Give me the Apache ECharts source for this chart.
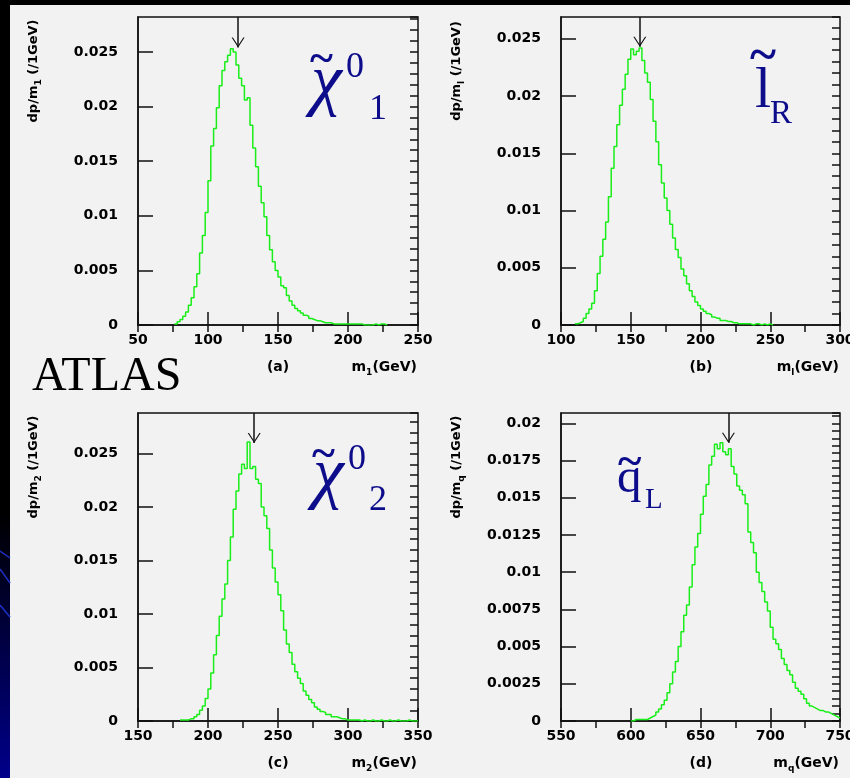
<!DOCTYPE html>
<html>
<head>
<meta charset="utf-8">
<script src="https://cdn.jsdelivr.net/npm/echarts@6/dist/echarts.min.js"></script>
<style>
html, body { margin: 0; padding: 0; background: #000; }
#wrap { position: relative; width: 850px; height: 778px; overflow: hidden; background: #000; }
#strip { position: absolute; left: 0; top: 0; width: 10px; height: 778px;
  background: linear-gradient(to bottom, #000 0%, #000 66%, #000030 78%, #00008a 100%); }
#panel { position: absolute; left: 10px; top: 5px; width: 840px; height: 773px; background: #f2f2f2; }
#main { position: absolute; left: 0; top: 0; width: 850px; height: 778px; }
</style>
</head>
<body>
<div id="wrap">
  <div id="strip"></div>
  <div id="panel"></div>
  <div id="main"></div>
</div>
<script>
// histogram bins, 2 GeV wide
const binWidth = 2

// (a) chi0_1
const chi1Start = 76
const chi1 = [0.0001, 0.0003, 0.0005, 0.0008, 0.0012, 0.0018, 0.0025, 0.0035, 0.0047, 0.0066,
  0.0082, 0.0103, 0.0132, 0.0164, 0.0180, 0.0199, 0.0219, 0.0233, 0.0241, 0.0247,
  0.0253, 0.0250, 0.0238, 0.0226, 0.0219, 0.0206, 0.0208, 0.0183, 0.0162, 0.0145,
  0.0127, 0.0112, 0.0099, 0.0082, 0.0069, 0.0058, 0.0050, 0.0044, 0.0036, 0.0034,
  0.0027, 0.0022, 0.0018, 0.0015, 0.0013, 0.0011, 0.0009, 0.0008, 0.0006, 0.0005,
  0.0004, 0.0004, 0.0003, 0.0002, 0.0002, 0.0002, 0.0001, 0.0001, 0.0001, 0.0001,
  0.0001, 0.0001, 0.0001, 0.0001, 0.0001, 0.0001, 0.0001, 0, 0, 0,
  0, 0.0001, 0, 0.0001, 0.0001, 0]

// (b) slepton_R
const slepStart = 110
const slep = [0.0001, 0.0002, 0.0003, 0.0006, 0.0010, 0.0014, 0.0019, 0.0030, 0.0045, 0.0060,
  0.0075, 0.0090, 0.0112, 0.0137, 0.0156, 0.0175, 0.0192, 0.0206, 0.0219, 0.0232,
  0.0241, 0.0236, 0.0239, 0.0242, 0.0231, 0.0220, 0.0212, 0.0197, 0.0178, 0.0160,
  0.0140, 0.0124, 0.0111, 0.0100, 0.0088, 0.0076, 0.0066, 0.0059, 0.0049, 0.0043,
  0.0036, 0.0030, 0.0025, 0.0020, 0.0017, 0.0014, 0.0012, 0.0010, 0.0009, 0.0007,
  0.0006, 0.0006, 0.0004, 0.0004, 0.0003, 0.0003, 0.0002, 0.0002, 0.0001, 0.0001,
  0.0001, 0.0001, 0.0001, 0, 0.0001, 0.0001, 0, 0.0001, 0, 0.0001, 0]

// (c) chi0_2
const chi2Start = 180
const chi2 = [0.0001, 0.0001, 0.0001, 0.0002, 0.0002, 0.0004, 0.0006, 0.0010, 0.0014, 0.0021,
  0.0030, 0.0045, 0.0062, 0.0080, 0.0098, 0.0114, 0.0128, 0.0150, 0.0172, 0.0198,
  0.0215, 0.0231, 0.0240, 0.0236, 0.0261, 0.0236, 0.0238, 0.0226, 0.0222, 0.0200,
  0.0192, 0.0180, 0.0160, 0.0143, 0.0130, 0.0118, 0.0103, 0.0085, 0.0072, 0.0064,
  0.0053, 0.0046, 0.0040, 0.0035, 0.0028, 0.0024, 0.0020, 0.0017, 0.0013, 0.0011,
  0.0009, 0.0008, 0.0006, 0.0006, 0.0004, 0.0004, 0.0003, 0.0002, 0.0002, 0.0001,
  0.0001, 0.0001, 0.0001, 0.0001, 0, 0.0001, 0, 0, 0.0001, 0,
  0, 0.0001, 0, 0, 0.0001, 0, 0, 0.0001, 0, 0,
  0, 0.0001, 0, 0, 0]

// (d) squark_L
const sqStart = 600
const squark = [0, 0.0001, 0.0001, 0.0001, 0.0001, 0.0001, 0.0002, 0.0003, 0.0004, 0.0006,
  0.0008, 0.0011, 0.0014, 0.0019, 0.0025, 0.0033, 0.0040, 0.0050, 0.0060, 0.0071,
  0.0078, 0.0090, 0.0105, 0.0117, 0.0126, 0.0139, 0.0151, 0.0159, 0.0172, 0.0178,
  0.0186, 0.0183, 0.0187, 0.0181, 0.0179, 0.0183, 0.0171, 0.0166, 0.0158, 0.0155,
  0.0152, 0.0146, 0.0127, 0.0120, 0.0113, 0.0100, 0.0093, 0.0087, 0.0080, 0.0074,
  0.0063, 0.0055, 0.0052, 0.0048, 0.0042, 0.0038, 0.0034, 0.0031, 0.0026, 0.0022,
  0.0020, 0.0018, 0.0015, 0.0012, 0.0010, 0.0009, 0.0008, 0.0007, 0.0007, 0.0006,
  0.0006, 0.0005, 0.0004, 0.0003, 0.0002]

// axes
const xRanges = [[50, 250], [100, 300], [150, 350], [550, 750]]
const yMaxes = [0.0282, 0.0269, 0.0288, 0.0207]
const yIntervals = [0.005, 0.005, 0.005, 0.0025]
const yMinorIntervals = [0.001, 0.001, 0.001, 0.0005]
// arrows: nominal mass and the height of the arrow tip
const peakMasses = [121.5, 156.5, 233, 670]
const arrowTips = [0.0254, 0.0243, 0.0260, 0.0187]
const panelTags = ['(a)', '(b)', '(c)', '(d)']
const massSubs = ['1', 'l', '2', 'q']

const starts = [chi1Start, slepStart, chi2Start, sqStart]
const hists = [chi1, slep, chi2, squark]
const grids = [
  { left: 138, top: 17, width: 280, height: 308 },
  { left: 561, top: 17, width: 279, height: 308 },
  { left: 138, top: 413, width: 280, height: 308 },
  { left: 561, top: 413, width: 279, height: 308 }
]

const axisFont = { fontFamily: 'DejaVu Sans', fontWeight: 'bold', fontSize: 14, color: '#000' }
const dark = '#111'
const navy = '#0d0d8c'
// open "v" arrow head, tip at centre of its box
const arrowHead = 'path://M5,0 L10,9 L9,9 L5,1.8 L1,9 L0,9 Z M5,-9 L5.01,-9 L5,-9 Z'

function histData (start, vals) {
  const pts = vals.map((v, i) => [start + i * binWidth, v])
  pts.push([start + vals.length * binWidth, vals[vals.length - 1]])
  return pts
}

const chart = echarts.init(document.getElementById('main'), null, { renderer: 'canvas' })

const gridOpts = []
const xAxes = []
const yAxes = []
const series = []
const graphics = []

grids.forEach((g, i) => {
  gridOpts.push(Object.assign({
    show: true, borderColor: dark, borderWidth: 1.5, backgroundColor: 'transparent',
    containLabel: false, outerBoundsMode: 'none'
  }, g))
  // main x axis, labels every 50
  xAxes.push({
    gridIndex: i, type: 'value', min: xRanges[i][0], max: xRanges[i][1], interval: 50,
    axisLine: { show: true, lineStyle: { color: dark, width: 1.5 } },
    axisTick: { show: true, inside: true, length: 13, lineStyle: { color: dark, width: 1.5 } },
    axisLabel: Object.assign({ margin: 8, showMinLabel: true, showMaxLabel: true }, axisFont),
    splitLine: { show: false }
  })
  // short ticks every 25
  xAxes.push({
    gridIndex: i, type: 'value', min: xRanges[i][0], max: xRanges[i][1], interval: 25,
    axisLine: { show: false },
    axisTick: { show: true, inside: true, length: 7, lineStyle: { color: dark, width: 1.5 } },
    axisLabel: { show: false }, splitLine: { show: false }
  })
  yAxes.push({
    gridIndex: i, type: 'value', min: 0, max: yMaxes[i], interval: yIntervals[i],
    axisLine: { show: true, lineStyle: { color: dark, width: 1.5 } },
    axisTick: { show: true, inside: true, length: 15, lineStyle: { color: dark, width: 1.5 } },
    axisLabel: Object.assign({ margin: 20, showMaxLabel: false }, axisFont),
    splitLine: { show: false }
  })
  yAxes.push({
    gridIndex: i, type: 'value', min: 0, max: yMaxes[i], interval: yMinorIntervals[i],
    axisLine: { show: false },
    axisTick: { show: true, inside: true, length: 8, lineStyle: { color: dark, width: 1.5 } },
    axisLabel: { show: false }, splitLine: { show: false }
  })
  series.push({
    type: 'line', step: 'end', xAxisIndex: i * 2, yAxisIndex: i * 2,
    data: histData(starts[i], hists[i]),
    showSymbol: false, z: 5,
    lineStyle: { color: '#1aee1a', width: 1.5 },
    markLine: {
      silent: true, animation: false,
      symbol: ['none', arrowHead], symbolSize: [13, 20],
      lineStyle: { color: dark, width: 1.5, type: 'solid' },
      label: { show: false },
      data: [[{ coord: [peakMasses[i], yMaxes[i]] }, { coord: [peakMasses[i], arrowTips[i]] }]]
    }
  })

  // axis titles
  const right = g.left + g.width
  const bottomY = g.top + g.height
  graphics.push({
    type: 'text', x: right - 1, y: bottomY + 42,
    style: {
      text: '{t|m}{s|' + massSubs[i] + '}{t|(GeV)}', align: 'right', verticalAlign: 'middle',
      rich: {
        t: { fontFamily: 'DejaVu Sans', fontWeight: 'bold', fontSize: 14, fill: '#000', lineHeight: 20, verticalAlign: 'middle' },
        s: { fontFamily: 'DejaVu Sans', fontWeight: 'bold', fontSize: 9, fill: '#000', lineHeight: 20, verticalAlign: 'bottom' }
      }
    }
  })
  graphics.push({
    type: 'text', x: g.left + 140, y: bottomY + 42,
    style: { text: panelTags[i], align: 'center', verticalAlign: 'middle',
      fontFamily: 'DejaVu Sans', fontWeight: 'bold', fontSize: 14, fill: '#000' }
  })
  graphics.push({
    type: 'text', x: g.left - 104, y: g.top + 54, rotation: Math.PI / 2,
    style: {
      text: '{t|dp/m}{s|' + massSubs[i] + '}{t| (/1GeV)}', align: 'center', verticalAlign: 'middle',
      rich: {
        t: { fontFamily: 'DejaVu Sans', fontWeight: 'bold', fontSize: 13, fill: '#000', lineHeight: 18, verticalAlign: 'middle' },
        s: { fontFamily: 'DejaVu Sans', fontWeight: 'bold', fontSize: 9, fill: '#000', lineHeight: 18, verticalAlign: 'bottom' }
      }
    }
  })
})

function serif (txt, x, y, size, extra) {
  return {
    type: 'text', x: x, y: y, z: 10,
    style: Object.assign({ text: txt, align: 'left', verticalAlign: 'middle',
      fontFamily: 'Liberation Serif', fontSize: size, fill: navy }, extra || {})
  }
}
const ital = { fontStyle: 'italic' }
const heavy = { fontWeight: 'bold' }

// particle names
graphics.push(
  serif('~', 310, 61, 44, heavy), serif('χ', 311, 84, 70, ital), serif('0', 346, 68, 36), serif('1', 369, 110, 36),
  serif('~', 750, 58, 50, heavy), serif('l', 755, 92, 58), serif('R', 770, 114, 33),
  serif('~', 312, 456, 44, heavy), serif('χ', 313, 477, 70, ital), serif('0', 348, 460, 36), serif('2', 369, 501, 36),
  serif('~', 618, 463, 45, heavy), serif('q', 617, 479, 49), serif('L', 645, 500, 29),
  serif('ATLAS', 32, 377, 48, { fill: '#000' })
)

// blue streaks on the dark left strip
graphics.push(
  { type: 'line', shape: { x1: 0, y1: 551, x2: 10, y2: 558 }, style: { stroke: '#1c2fc0', lineWidth: 1.5 } },
  { type: 'line', shape: { x1: 0, y1: 569, x2: 10, y2: 583 }, style: { stroke: '#1c2fc0', lineWidth: 1.5 } },
  { type: 'line', shape: { x1: 0, y1: 605, x2: 10, y2: 617 }, style: { stroke: '#1c2fc0', lineWidth: 1.5 } }
)

chart.setOption({
  backgroundColor: 'transparent',
  animation: false,
  grid: gridOpts,
  xAxis: xAxes,
  yAxis: yAxes,
  series: series,
  graphic: { elements: graphics }
})
</script>
</body>
</html>
